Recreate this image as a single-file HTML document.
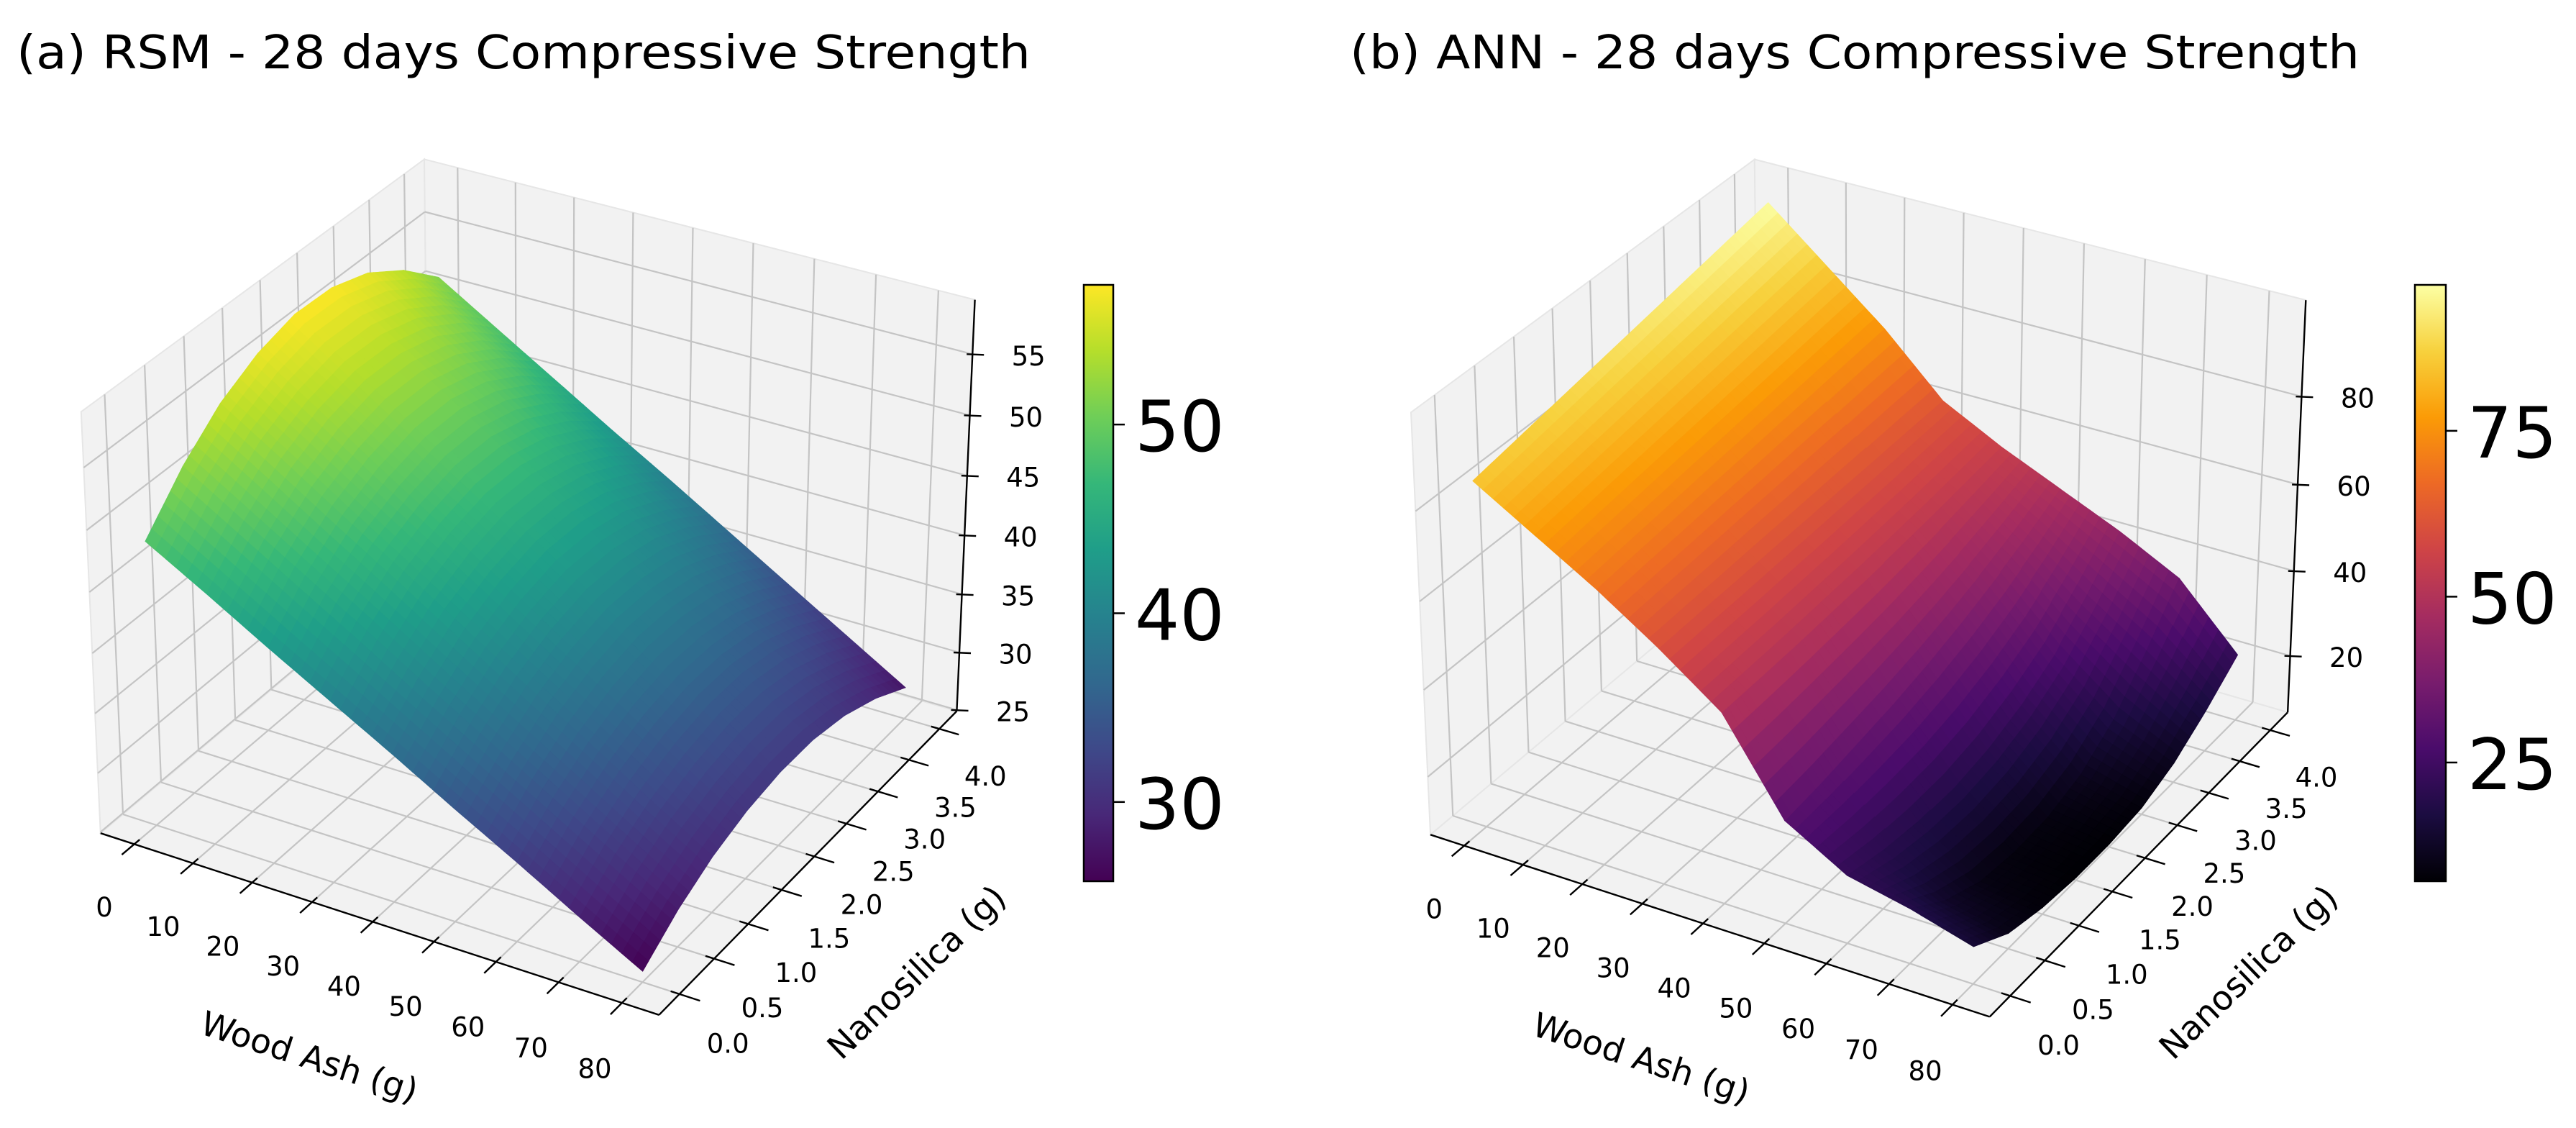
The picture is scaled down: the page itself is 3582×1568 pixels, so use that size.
<!DOCTYPE html>
<html>
<head>
<meta charset="utf-8">
<style>
html,body{margin:0;padding:0;background:#fff;}
svg{display:block;}
text{font-family:"DejaVu Sans","Liberation Sans",sans-serif;fill:#000;}
</style>
</head>
<body>
<svg id="fig" width="3582" height="1568" viewBox="0 0 3582 1568" xmlns="http://www.w3.org/2000/svg">
  <defs id="defs"></defs>
  <text x="23" y="95" font-size="64" textLength="1410" lengthAdjust="spacingAndGlyphs">(a) RSM - 28 days Compressive Strength</text>
  <text x="1877" y="95" font-size="64" textLength="1404" lengthAdjust="spacingAndGlyphs">(b) ANN - 28 days Compressive Strength</text>
  <g id="panelA"></g>
  <g id="panelB"></g>
</svg>
<script>
// ---- data ----
const xVals = [0, 10, 20, 30, 40, 50, 60, 70, 80];
const yVals = [0, 0.5, 1, 1.5, 2, 2.5, 3, 3.5, 4];
// rows: wood ash (x), cols: nanosilica (y)
const zRSM = [
  [48.5, 52.1, 54.8, 56.5, 57.4, 57.3, 56.3, 54.3, 51.5],
  [45.7, 49.1, 51.7, 53.3, 54.1, 54.0, 53.1, 51.2, 48.5],
  [42.8, 46.1, 48.5, 50.0, 50.8, 50.8, 49.9, 48.1, 45.5],
  [40.0, 43.1, 45.4, 46.8, 47.6, 47.5, 46.6, 44.9, 42.5],
  [37.2, 40.0, 42.2, 43.6, 44.3, 44.2, 43.4, 41.8, 39.6],
  [34.3, 37.0, 39.0, 40.3, 41.0, 40.9, 40.2, 38.7, 36.6],
  [31.5, 34.0, 35.9, 37.1, 37.7, 37.6, 36.9, 35.5, 33.6],
  [28.6, 31.0, 32.7, 33.8, 34.4, 34.4, 33.7, 32.4, 30.6],
  [25.8, 28.0, 29.6, 30.6, 31.1, 31.1, 30.5, 29.3, 27.6]
];
const zANN = [
  [85.0, 86.5, 88.0, 89.5, 91.0, 92.5, 94.0, 95.5, 97.0],
  [77.0, 78.1, 79.3, 80.4, 81.5, 82.6, 83.8, 84.9, 86.0],
  [69.0, 69.8, 70.5, 71.3, 72.0, 72.8, 73.5, 74.3, 75.0],
  [60.0, 60.3, 60.5, 60.8, 61.0, 61.3, 61.5, 61.8, 62.0],
  [50.0, 50.2, 50.5, 51.0, 51.5, 52.2, 53.0, 54.0, 55.0],
  [30.0, 31.0, 32.5, 34.0, 36.0, 38.5, 41.5, 45.0, 49.0],
  [22.0, 20.0, 19.0, 19.0, 20.5, 23.5, 28.0, 35.0, 43.0],
  [19.0, 13.0, 9.5, 8.5, 9.0, 11.5, 17.0, 26.0, 36.0],
  [15.0, 10.0, 8.0, 7.1, 7.1, 8.0, 11.0, 16.0, 22.0]
];
const xTicks = [0, 10, 20, 30, 40, 50, 60, 70, 80];
const yTicks = [0, 0.5, 1, 1.5, 2, 2.5, 3, 3.5, 4];
const zTicksA = [25, 30, 35, 40, 45, 50, 55];
const zTicksB = [20, 40, 60, 80];
const cbTicksA = [30, 40, 50];
const cbTicksB = [25, 50, 75];

const VIRIDIS = ['#440154','#482878','#3e4989','#31688e','#26828e','#1f9e89','#35b779','#6ece58','#b5de2b','#fde725'];
const INFERNO = ['#000004','#1b0c41','#4a0c6b','#781c6d','#a52c60','#cf4446','#ed6925','#fb9b06','#f7d13d','#fcffa4'];

const NS = 'http://www.w3.org/2000/svg';
function hex2rgb(h){return [parseInt(h.substr(1,2),16),parseInt(h.substr(3,2),16),parseInt(h.substr(5,2),16)];}
function cmap(stops,t){
  t=Math.max(0,Math.min(1,t));
  const f=t*(stops.length-1); const i=Math.min(stops.length-2,Math.floor(f)); const r=f-i;
  const a=hex2rgb(stops[i]), b=hex2rgb(stops[i+1]);
  return 'rgb('+Math.round(a[0]+(b[0]-a[0])*r)+','+Math.round(a[1]+(b[1]-a[1])*r)+','+Math.round(a[2]+(b[2]-a[2])*r)+')';
}
function el(tag,attrs,parent){const e=document.createElementNS(NS,tag);for(const k in attrs)e.setAttribute(k,attrs[k]);parent.appendChild(e);return e;}

// camera (elev 30, azim -60, dist 10, box aspect 4:4:3)
const BOX=[1.1429,1.1429,0.8572];
const el_=30*Math.PI/180, az=-60*Math.PI/180;
const W=[Math.cos(el_)*Math.cos(az),Math.cos(el_)*Math.sin(az),Math.sin(el_)];
let U=[-W[1],W[0],0]; const un=Math.hypot(U[0],U[1]); U=[U[0]/un,U[1]/un,0];
const V=[W[1]*U[2]-W[2]*U[1],W[2]*U[0]-W[0]*U[2],W[0]*U[1]-W[1]*U[0]];

function buildPanel(g,cfg){
  const [xlo,xhi]=cfg.xlim,[ylo,yhi]=cfg.ylim,[zlo,zhi]=cfg.zlim;
  function raw(x,y,z){
    const d=[(x-xlo)/(xhi-xlo)*BOX[0]-BOX[0]/2,(y-ylo)/(yhi-ylo)*BOX[1]-BOX[1]/2,(z-zlo)/(zhi-zlo)*BOX[2]-BOX[2]/2];
    const dep=10-(d[0]*W[0]+d[1]*W[1]+d[2]*W[2]);
    return [(d[0]*U[0]+d[1]*U[1])/dep,(d[0]*V[0]+d[1]*V[1]+d[2]*V[2])/dep,dep];
  }
  const L=[cfg.xlim,cfg.ylim,cfg.zlim];
  const px=[],py=[],PX=[],PY=[];
  cfg.obs.forEach(o=>{const r=raw(L[0][o[0]],L[1][o[1]],L[2][o[2]]);px.push(r[0]);py.push(r[1]);PX.push(o[3]);PY.push(o[4]);});
  function fit(a,b){const n=a.length;const ma=a.reduce((s,v)=>s+v,0)/n,mb=b.reduce((s,v)=>s+v,0)/n;let c=0,vv=0;for(let i=0;i<n;i++){c+=(a[i]-ma)*(b[i]-mb);vv+=(a[i]-ma)*(a[i]-ma);}const s=c/vv;return [s,mb-s*ma];}
  const fx=fit(px,PX), fy=fit(py,PY);
  function P(x,y,z){const r=raw(x,y,z);return [fx[1]+fx[0]*r[0],fy[1]+fy[0]*r[1],r[2]];}
  function pts(arr){return arr.map(p=>p[0].toFixed(1)+','+p[1].toFixed(1)).join(' ');}
  const Rx=xhi-xlo, Ry=yhi-ylo;

  const pane1=el('polygon',{points:pts([P(xlo,ylo,zlo),P(xlo,yhi,zlo),P(xlo,yhi,zhi),P(xlo,ylo,zhi)]),fill:'#f2f2f2',stroke:'#e6e6e6','stroke-width':2},g);
  
  
  const pane2=el('polygon',{points:pts([P(xlo,yhi,zlo),P(xhi,yhi,zlo),P(xhi,yhi,zhi),P(xlo,yhi,zhi)]),fill:'#f2f2f2',stroke:'#e6e6e6','stroke-width':2},g);
  
  
  const pane3=el('polygon',{points:pts([P(xlo,ylo,zlo),P(xhi,ylo,zlo),P(xhi,yhi,zlo),P(xlo,yhi,zlo)]),fill:'#f2f2f2',stroke:'#e6e6e6','stroke-width':2},g);
  
  

  const grid=el('g',{stroke:'#c4c4c4','stroke-width':2.2,fill:'none'},g);
  
  
  function line(a,b,parent,attrs){return el('line',Object.assign({x1:a[0].toFixed(1),y1:a[1].toFixed(1),x2:b[0].toFixed(1),y2:b[1].toFixed(1)},attrs||{}),parent);}
  xTicks.forEach(x=>{line(P(x,ylo,zlo),P(x,yhi,zlo),grid);line(P(x,yhi,zlo),P(x,yhi,zhi),grid);});
  yTicks.forEach(y=>{line(P(xhi,y,zlo),P(xlo,y,zlo),grid);line(P(xlo,y,zlo),P(xlo,y,zhi),grid);});
  cfg.zTicks.forEach(z=>{line(P(xlo,ylo,z),P(xlo,yhi,z),grid);line(P(xlo,yhi,z),P(xhi,yhi,z),grid);});

  const ax=el('g',{stroke:'#000','stroke-width':2.4,fill:'none'},g);
  
  
  line(P(xlo,ylo,zlo),P(xhi,ylo,zlo),ax);
  line(P(xhi,ylo,zlo),P(xhi,yhi,zlo),ax);
  line(P(xhi,yhi,zlo),P(xhi,yhi,zhi),ax);
  xTicks.forEach(x=>line(P(x,ylo+0.015*Ry,zlo),P(x,ylo-0.035*Ry,zlo),ax));
  yTicks.forEach(y=>line(P(xhi-0.015*Rx,y,zlo),P(xhi+0.035*Rx,y,zlo),ax));
  cfg.zTicks.forEach(z=>{const p=P(xhi,yhi,z);line([p[0]-8,p[1]],[p[0]+16,p[1]+1],ax);});

  const Z=cfg.Z; let vmin=Infinity,vmax=-Infinity;
  Z.forEach(r=>r.forEach(v=>{vmin=Math.min(vmin,v);vmax=Math.max(vmax,v);}));
  const N=6, quads=[];
  for(let i=0;i<xVals.length-1;i++)for(let j=0;j<yVals.length-1;j++){
    for(let a=0;a<N;a++)for(let b=0;b<N;b++){
      const cs=[[a,b],[a+1,b],[a+1,b+1],[a,b+1]].map(([s,t])=>{
        const u=s/N,w=t/N;
        const z=Z[i][j]*(1-u)*(1-w)+Z[i+1][j]*u*(1-w)+Z[i+1][j+1]*u*w+Z[i][j+1]*(1-u)*w;
        const x=xVals[i]+(xVals[i+1]-xVals[i])*u, y=yVals[j]+(yVals[j+1]-yVals[j])*w;
        return [x,y,z];
      });
      const sp=cs.map(c=>P(c[0],c[1],c[2]));
      const zm=(cs[0][2]+cs[1][2]+cs[2][2]+cs[3][2])/4;
      const dep=(sp[0][2]+sp[1][2]+sp[2][2]+sp[3][2])/4;
      quads.push({sp,zm,dep});
    }
  }
  quads.sort((p,q)=>q.dep-p.dep);
  const surf=el('g',{},g);
  
  
  quads.forEach(q=>{const c=cmap(cfg.stops,(q.zm-vmin)/(vmax-vmin));
    const pg=el('polygon',{points:pts(q.sp),fill:c,stroke:c,'stroke-width':0.8},surf);
    
    
  });

  const tl=el('g',{'font-size':37,'text-anchor':'middle','dominant-baseline':'central'},g);
  
  
  xTicks.forEach(x=>{const p=P(x,ylo-0.1*Ry,zlo);const t=el('text',{x:(p[0]+8).toFixed(1),y:(p[1]+46).toFixed(1)},tl);t.textContent=String(x);
    
    });
  yTicks.forEach(y=>{const p=P(xhi+0.08*Rx,y,zlo);const t=el('text',{x:(p[0]+2).toFixed(1),y:(p[1]+48).toFixed(1)},tl);t.textContent=y.toFixed(1);
    
    });
  cfg.zTicks.forEach(z=>{const p=P(xhi,yhi,z);const t=el('text',{x:(p[0]+78).toFixed(1),y:(p[1]+3).toFixed(1)},tl);t.textContent=String(z);
    
    });

  const xt=el('text',{x:cfg.xTitle[0],y:cfg.xTitle[1],'font-size':47,'text-anchor':'middle','dominant-baseline':'central',transform:'rotate(18 '+cfg.xTitle[0]+' '+cfg.xTitle[1]+')'},g);
  xt.textContent='Wood Ash (g)';
  
  
  const yt=el('text',{x:cfg.yTitle[0],y:cfg.yTitle[1],'font-size':47,'text-anchor':'middle','dominant-baseline':'central',transform:'rotate(-44 '+cfg.yTitle[0]+' '+cfg.yTitle[1]+')'},g);
  yt.textContent='Nanosilica (g)';
  
  

  const defs=document.getElementById('defs');
  const gr=el('linearGradient',{id:cfg.id+'grad',x1:0,y1:1,x2:0,y2:0},defs);
  cfg.stops.forEach((s,k)=>el('stop',{offset:(k/(cfg.stops.length-1)).toFixed(3),'stop-color':s},gr));
  const cb=cfg.cb;
  const cbg=el('g',{},g);
  
  
  el('rect',{x:cb[0],y:cb[1],width:cb[2],height:cb[3],fill:'url(#'+cfg.id+'grad)',stroke:'#000','stroke-width':2.5},cbg);
  const cy=v=>cb[1]+cb[3]*(1-(v-vmin)/(vmax-vmin));
  cfg.cbTicks.forEach(v=>{const y=cy(v);
    el('line',{x1:cb[0]+cb[2],y1:y,x2:cb[0]+cb[2]+16,y2:y,stroke:'#000','stroke-width':2.5},cbg);
    const t=el('text',{x:cb[0]+cb[2]+30,y:y+4,'font-size':98,'dominant-baseline':'central'},cbg);
    t.textContent=String(v);
    
    
  });
}

buildPanel(document.getElementById('panelA'),{
  id:'a', xlim:[-5.8,85.8], ylim:[-0.29,4.29], zlim:[24.9,59.4], Z:zRSM, stops:VIRIDIS,
  zTicks:zTicksA, cbTicks:cbTicksA, cb:[1507,396,41,829],
  obs:[[0,0,0,143,1160],[1,0,0,918,1413],[1,1,0,1331,988],[1,1,1,1357,419],[0,1,1,582,228],[0,0,1,114,560]],
  xTitle:[430,1470], yTitle:[1275,1352]
});
buildPanel(document.getElementById('panelB'),{
  id:'b', xlim:[-5.8,85.8], ylim:[-0.29,4.29], zlim:[6.5,101.5], Z:zANN, stops:INFERNO,
  zTicks:zTicksB, cbTicks:cbTicksB, cb:[3358,396,43,829],
  obs:[[0,0,0,1991,1160],[1,0,0,2768,1414],[1,1,0,3181,994],[1,1,1,3207,415],[0,1,1,2436,228],[0,0,1,1962,565]],
  xTitle:[2282,1472], yTitle:[3127,1352]
});
</script>
</body>
</html>
